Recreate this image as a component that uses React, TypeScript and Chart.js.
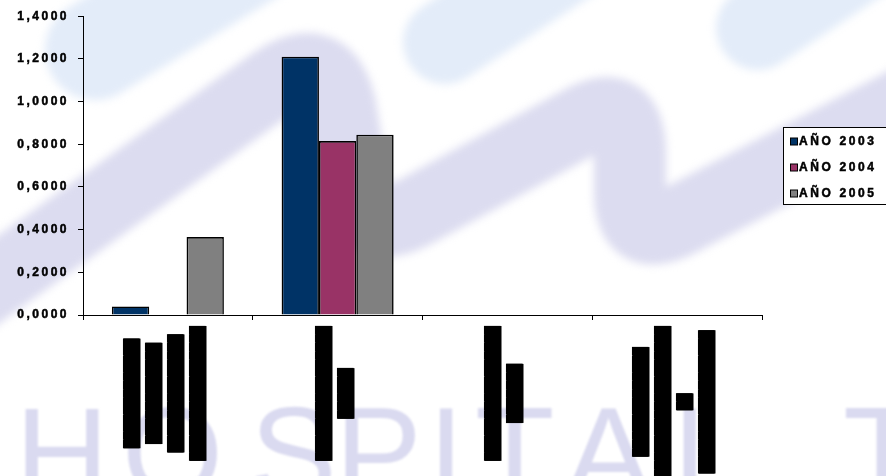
import React, { useEffect, useRef } from "react";
import { Chart, registerables } from "chart.js";

Chart.register(...registerables);

// Category labels (rendered as redacted/blacked-out rotated text lines)
const categoryLabels: string[][] = [
  ["█████████████", "████████████", "██████████████", "████████████████"],
  ["████████████████", "██████"],
  ["████████████████", "███████"],
  ["█████████████", "██████████████████", "██", "█████████████████"],
];
const seriesNames = ["AÑO 2003", "AÑO 2004", "AÑO 2005"];
const values2003 = [0.04, 1.21, 0, 0];
const values2004 = [0, 0.815, 0, 0];
const values2005 = [0.365, 0.845, 0, 0];
const seriesColors = ["#003366", "#993366", "#808080"];
const yTickValues = [0, 0.2, 0.4, 0.6, 0.8, 1.0, 1.2, 1.4];
const watermarkLetters = ["H", "O", "S", "P", "I", "T", "A", "L", "T"];
const watermarkOffsets = [15, 122, 250, 335, 428, 475, 565, 673, 843];

function drawWatermark(ctx: CanvasRenderingContext2D, w: number, h: number) {
  ctx.save();
  ctx.letterSpacing = "0px";
  ctx.fillStyle = "#ffffff";
  ctx.fillRect(0, 0, w, h);
  ctx.filter = "blur(4px)";
  ctx.lineCap = "round";
  ctx.lineJoin = "round";
  // pale blue swooshes
  ctx.strokeStyle = "#e3ecf9";
  ctx.lineWidth = 100;
  ctx.beginPath();
  ctx.moveTo(95, 50);
  ctx.lineTo(250, -45);
  ctx.stroke();
  ctx.lineWidth = 84;
  ctx.beginPath();
  ctx.moveTo(445, 42);
  ctx.lineTo(570, -40);
  ctx.stroke();
  ctx.beginPath();
  ctx.moveTo(758, 28);
  ctx.lineTo(860, -40);
  ctx.stroke();
  // lavender wave band
  ctx.strokeStyle = "#dcdcf0";
  ctx.lineWidth = 72;
  ctx.beginPath();
  ctx.moveTo(-30, 300);
  ctx.lineTo(270, 85);
  ctx.quadraticCurveTo(325, 45, 340, 105);
  ctx.lineTo(352, 180);
  ctx.quadraticCurveTo(362, 240, 415, 212);
  ctx.lineTo(580, 122);
  ctx.quadraticCurveTo(628, 95, 630, 150);
  ctx.lineTo(630, 195);
  ctx.quadraticCurveTo(632, 250, 690, 215);
  ctx.lineTo(930, 90);
  ctx.stroke();
  // HOSPITAL lettering
  ctx.filter = "blur(1.2px)";
  ctx.fillStyle = "#dadaf0";
  ctx.font = '130px "Liberation Sans"';
  ctx.textBaseline = "alphabetic";
  ctx.textAlign = "left";
  watermarkLetters.forEach((ch, i) => ctx.fillText(ch, watermarkOffsets[i], 498));
  ctx.restore();
}

const backgroundPlugin = {
  id: "watermarkBg",
  beforeDraw(chart: any) {
    drawWatermark(chart.ctx, chart.width, chart.height);
    chart.ctx.letterSpacing = "2.5px";
  },
};

const blockLabelPlugin = {
  id: "blockLabels",
  afterDraw(chart: any) {
    const xs = chart.scales.x;
    const ctx: CanvasRenderingContext2D = chart.ctx;
    ctx.save();
    ctx.letterSpacing = "0px";
    ctx.font = '14px "DejaVu Sans Mono"';
    ctx.fillStyle = "#000";
    ctx.textAlign = "center";
    ctx.textBaseline = "middle";
    (chart.data.labels as string[][]).forEach((lines, i) => {
      const cx = xs.getPixelForTick(i) - 3;
      const widths = lines.map((l) => ctx.measureText(l).width);
      const maxW = Math.max(...widths);
      const cy = xs.top + 11 + maxW / 2;
      lines.forEach((line, j) => {
        const lx = cx + (j - (lines.length - 1) / 2) * 22;
        const wLine = widths[j];
        ctx.save();
        ctx.translate(Math.round(lx), cy);
        ctx.rotate(-Math.PI / 2);
        ctx.fillText(line, 0, 0);
        // solid redaction bar covering the text extent
        ctx.fillRect(-wLine / 2, -8, wLine, 16.5);
        ctx.restore();
      });
    });
    ctx.restore();
  },
};

const boxLegendPlugin = {
  id: "boxLegend",
  afterDraw(chart: any) {
    const ctx: CanvasRenderingContext2D = chart.ctx;
    const area = chart.chartArea;
    const left = area.right + 21;
    const top = 127;
    const rowH = 26;
    const ds = chart.data.datasets;
    ctx.save();
    ctx.letterSpacing = "2.6px";
    ctx.strokeStyle = "#000";
    ctx.lineWidth = 1;
    ctx.fillStyle = "#fff";
    ctx.fillRect(left + 0.5, top + 0.5, 140, rowH * ds.length - 1);
    ctx.strokeRect(left + 0.5, top + 0.5, 140, rowH * ds.length - 1);
    ctx.font = 'bold 12px "Liberation Sans"';
    ctx.textBaseline = "middle";
    ctx.textAlign = "left";
    ds.forEach((d: any, i: number) => {
      const cy = top + 14.5 + i * rowH;
      ctx.fillStyle = d.backgroundColor;
      ctx.lineWidth = 1;
      ctx.fillRect(left + 7.5, cy - 3.5, 7, 7);
      ctx.strokeRect(left + 7.5, cy - 3.5, 7, 7);
      ctx.fillStyle = "#000";
      ctx.lineWidth = 0.5;
      ctx.fillText(d.label, left + 16, cy + 0.5);
      ctx.strokeText(d.label, left + 16, cy + 0.5);
    });
    ctx.restore();
  },
};

export default function App() {
  const canvasRef = useRef<HTMLCanvasElement | null>(null);

  useEffect(() => {
    if (!canvasRef.current) return;
    const seriesValues = [values2003, values2004, values2005];
    const chart = new Chart(canvasRef.current, {
      type: "bar",
      data: {
        labels: categoryLabels as any,
        datasets: seriesNames.map((name, i) => ({
          label: name,
          data: seriesValues[i],
          backgroundColor: seriesColors[i],
          borderColor: "#000000",
          borderWidth: 1.6,
          categoryPercentage: 0.66,
          barPercentage: 1.0,
        })),
      },
      options: {
        responsive: false,
        animation: false,
        events: [],
        layout: { padding: { top: 15, right: 124, left: 0, bottom: 0 } },
        plugins: {
          legend: { display: false },
          tooltip: { enabled: false },
        },
        scales: {
          x: {
            ticks: { display: false },
            grid: {
              display: true,
              offset: true,
              drawOnChartArea: false,
              drawTicks: true,
              tickLength: 5,
              color: "#000",
            },
            border: { display: true, color: "#000", width: 1 },
            afterFit: (scale: any) => {
              scale.height = 161;
            },
          },
          y: {
            min: 0,
            max: 1.4,
            afterBuildTicks: (scale: any) => {
              scale.ticks = yTickValues.map((v) => ({ value: v }));
            },
            ticks: {
              padding: 9,
              color: "#000",
              textStrokeColor: "#000",
              textStrokeWidth: 0.5,
              font: { family: '"Liberation Sans", Arial, sans-serif', size: 12, weight: "bold" },
              callback: (v: any) => Number(v).toFixed(4).replace(".", ","),
            },
            grid: {
              display: true,
              drawOnChartArea: false,
              drawTicks: true,
              tickLength: 5,
              color: "#000",
            },
            border: { display: true, color: "#000", width: 1 },
            afterFit: (scale: any) => {
              scale.width = 83;
            },
          },
        },
      },
      plugins: [backgroundPlugin, blockLabelPlugin, boxLegendPlugin],
    });
    return () => chart.destroy();
  }, []);

  return (
    <canvas
      ref={canvasRef}
      width={886}
      height={476}
      style={{ position: "absolute", left: 0, top: 0, width: 886, height: 476 }}
    />
  );
}
